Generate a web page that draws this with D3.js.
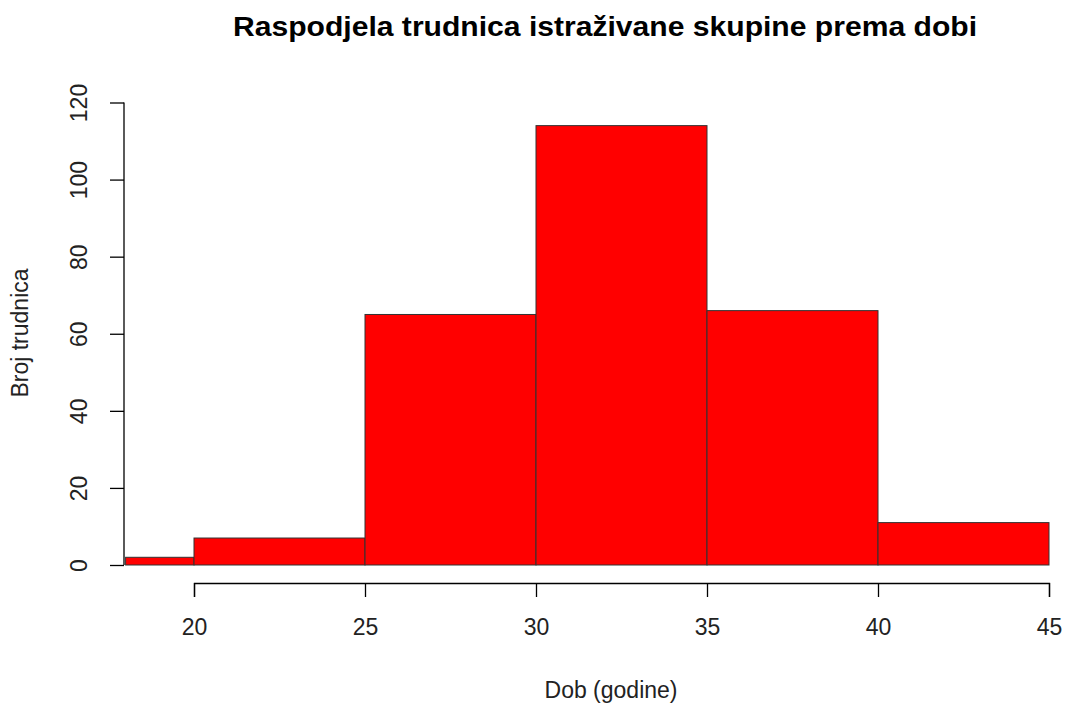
<!DOCTYPE html>
<meta charset="utf-8">
<style>
body { margin: 0; background: #fff; }
text { font-family: "Liberation Sans", Arial, sans-serif; fill: #000; }
.title { font-size: 27px; font-weight: bold; }
.lab { font-size: 23px; fill: #222; }
.axis text { font-size: 23px; fill: #222; }
.axis path, .axis line { stroke: #000; stroke-width: 1.3px; }
.bar { fill: #ff0000; stroke: #333; stroke-width: 1px; }
</style>
<svg width="1068" height="707"></svg>
<script src="https://d3js.org/d3.v7.min.js"></script>
<script>
// histogram bins (age, years) and counts
var binStart = [18, 20, 25, 30, 35, 40];
var binEnd   = [20, 25, 30, 35, 40, 45];
var counts   = [2, 7, 65, 114, 66, 11];
var xTicks = [20, 25, 30, 35, 40, 45];
var yTicks = [0, 20, 40, 60, 80, 100, 120];

var svg = d3.select("svg");

var x = d3.scaleLinear().domain([20, 45]).range([194, 1049]);
var y = d3.scaleLinear().domain([0, 120]).range([565, 102.5]);

var bins = binStart.map(function(d, i) { return {x0: d, x1: binEnd[i], n: counts[i]}; });

svg.selectAll(".bar").data(bins).enter().append("rect")
    .attr("class", "bar")
    .attr("x", function(d) { return x(d.x0); })
    .attr("y", function(d) { return y(d.n); })
    .attr("width", function(d) { return x(d.x1) - x(d.x0); })
    .attr("height", function(d) { return y(0) - y(d.n); });

// x axis, offset below the plot like R does
var gx = svg.append("g").attr("class", "axis")
    .attr("transform", "translate(0,583)")
    .call(d3.axisBottom(x).tickValues(xTicks).tickSize(14).tickSizeOuter(14).tickPadding(22));
gx.selectAll("text").attr("dy", "0.71em");

var gy = svg.append("g").attr("class", "axis")
    .attr("transform", "translate(124,0)")
    .call(d3.axisLeft(y).tickValues(yTicks).tickSize(14).tickSizeOuter(14));
gy.select(".domain").remove();
gy.append("line").attr("x1", 0).attr("x2", 0).attr("y1", y(0)).attr("y2", y(120))
    .attr("stroke", "#000").attr("stroke-width", 1.3);
// R style: tick labels rotated, parallel to the axis
gy.selectAll(".tick text")
    .attr("text-anchor", "middle")
    .attr("dy", 0)
    .attr("x", 0).attr("y", 0)
    .attr("transform", "translate(-43,0) rotate(-90)")
    .attr("dominant-baseline", "middle");

svg.append("text").attr("class", "title")
    .attr("x", 605).attr("y", 36).attr("text-anchor", "middle")
    .attr("textLength", 744).attr("lengthAdjust", "spacingAndGlyphs")
    .text("Raspodjela trudnica istraživane skupine prema dobi");

svg.append("text").attr("class", "lab")
    .attr("x", 611).attr("y", 698).attr("text-anchor", "middle")
    .text("Dob (godine)");

svg.append("text").attr("class", "lab")
    .attr("transform", "translate(22,333) rotate(-90)")
    .attr("text-anchor", "middle")
    .attr("dominant-baseline", "middle")
    .text("Broj trudnica");
</script>
